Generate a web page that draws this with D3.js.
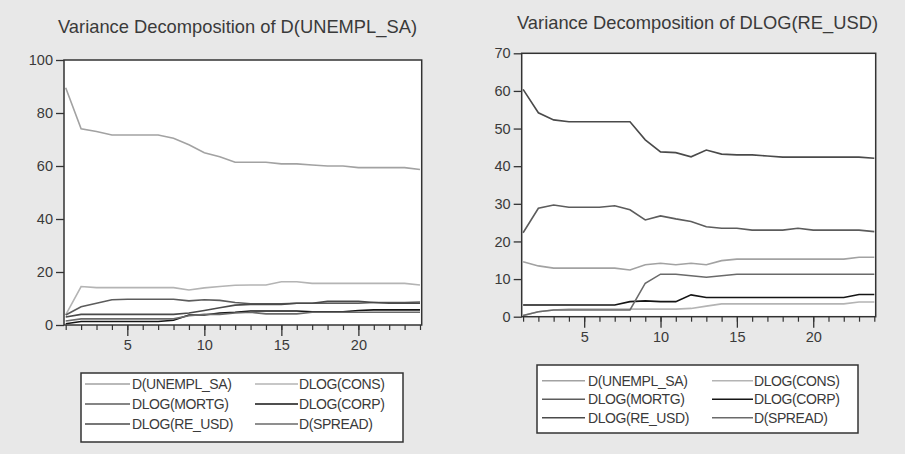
<!DOCTYPE html>
<html>
<head>
<meta charset="utf-8">
<script src="https://cdn.jsdelivr.net/npm/d3@7"></script>
<style>
  body { margin: 0; background: #e8e8e8; }
  svg { display: block; }
  text { font-family: "Liberation Sans", Arial, sans-serif; fill: #3a3a3a; }
</style>
</head>
<body>
<svg id="chart" width="905" height="454"></svg>
<script>
// Forecast horizons (periods)
const horizons = [1,2,3,4,5,6,7,8,9,10,11,12,13,14,15,16,17,18,19,20,21,22,23,24];
const xTickLabels = [5, 10, 15, 20];

// Shock variables, in legend order
const seriesNames = ["D(UNEMPL_SA)", "DLOG(CONS)", "DLOG(MORTG)", "DLOG(CORP)", "DLOG(RE_USD)", "D(SPREAD)"];
const seriesColors = ["#a2a2a2", "#b4b4b4", "#5c5c5c", "#151515", "#4a4a4a", "#6a6a6a"];

// Variance decomposition of D(UNEMPL_SA), percent due to each shock
const unemplTitle = "Variance Decomposition of D(UNEMPL_SA)";
const unemplYTicks = [0, 20, 40, 60, 80, 100];
const unemplDueUnempl = [89.5,74,73,71.7,71.7,71.7,71.7,70.5,68,65,63.5,61.4,61.4,61.4,60.8,60.8,60.4,60,60,59.4,59.4,59.4,59.4,58.7];
const unemplDueCons   = [3.8,14.5,14.1,14.1,14.1,14.1,14.1,14.1,13.2,14,14.5,15,15.1,15.1,16.3,16.3,15.7,15.7,15.7,15.7,15.7,15.7,15.7,15.1];
const unemplDueMortg  = [3.8,6.9,8.2,9.5,9.7,9.7,9.7,9.7,9.1,9.5,9.3,8.5,8,8,8,8.2,8.2,8.2,8.2,8.2,8.5,8.5,8.5,8.7];
const unemplDueCorp   = [0.5,1.3,1.3,1.3,1.3,1.3,1.3,1.8,3.8,3.8,4.5,4.8,5.3,5.3,5.3,5.3,5,5,5,5.5,5.7,5.7,5.7,5.7];
const unemplDueReUsd  = [3,4,4,4,4,4,4,4,4.5,5.5,6.5,7.5,7.8,7.8,7.8,8.2,8.2,8.9,8.9,8.9,8.5,8.2,8.2,8.2];
const unemplDueSpread = [1.5,2.3,2.3,2.3,2.3,2.3,2.3,2.3,3.5,4,4,4.5,4.8,4.2,4.2,4.2,4.8,4.8,4.8,4.8,4.8,4.8,4.8,4.8];

// Variance decomposition of DLOG(RE_USD), percent due to each shock
const reUsdTitle = "Variance Decomposition of DLOG(RE_USD)";
const reUsdYTicks = [0, 10, 20, 30, 40, 50, 60, 70];
const reUsdDueUnempl = [14.6,13.5,12.9,12.9,12.9,12.9,12.9,12.4,13.8,14.2,13.8,14.2,13.8,14.9,15.3,15.3,15.3,15.3,15.3,15.3,15.3,15.3,15.8,15.8];
const reUsdDueCons   = [0.3,1.3,1.8,2,2,2,2,2,2,2,2,2.2,2.8,3.4,3.4,3.4,3.4,3.4,3.4,3.4,3.4,3.4,3.9,3.9];
const reUsdDueMortg  = [22.3,28.8,29.7,29.1,29.1,29.1,29.5,28.4,25.7,26.8,26,25.3,23.9,23.5,23.5,23,23,23,23.5,23,23,23,23,22.6];
const reUsdDueCorp   = [3.1,3.1,3.1,3.1,3.1,3.1,3.1,4,4.2,4,4,5.8,5.1,5.1,5.1,5.1,5.1,5.1,5.1,5.1,5.1,5.1,5.9,5.9];
const reUsdDueReUsd  = [60.4,54.2,52.3,51.8,51.8,51.8,51.8,51.8,47,43.8,43.6,42.5,44.3,43.2,43,43,42.7,42.4,42.4,42.4,42.4,42.4,42.4,42.1];
const reUsdDueSpread = [0.3,1.3,1.8,1.8,1.8,1.8,1.8,1.8,8.9,11.3,11.3,10.9,10.5,10.9,11.3,11.3,11.3,11.3,11.3,11.3,11.3,11.3,11.3,11.3];

const panels = [
  {
    title: unemplTitle, yTicks: unemplYTicks,
    values: [unemplDueUnempl, unemplDueCons, unemplDueMortg, unemplDueCorp, unemplDueReUsd, unemplDueSpread],
    frame: { left: 64, right: 421.7, top: 60, bottom: 325 },
    xRange: [65.7, 420],
    titleBox: { x0: 58, x1: 417, baseline: 33.3 },
    legend: { x0: 81, x1: 403, y0: 373, y1: 442, rows: [384, 404, 424],
              cols: [{ l0: 85, l1: 130, tx: 132 }, { l0: 255, l1: 298, tx: 299 }] }
  },
  {
    title: reUsdTitle, yTicks: reUsdYTicks,
    values: [reUsdDueUnempl, reUsdDueCons, reUsdDueMortg, reUsdDueCorp, reUsdDueReUsd, reUsdDueSpread],
    frame: { left: 521.7, right: 875.7, top: 53.3, bottom: 316.7 },
    xRange: [523.1, 874.3],
    titleBox: { x0: 517, x1: 878, baseline: 29.3 },
    legend: { x0: 537, x1: 858, y0: 365, y1: 433, rows: [380.7, 399.2, 417.7],
              cols: [{ l0: 542, l1: 585, tx: 588 }, { l0: 712, l1: 753, tx: 754 }] }
  }
];

const svg = d3.select("#chart");

panels.forEach(p => {
  const g = svg.append("g");
  const f = p.frame;

  const x = d3.scaleLinear().domain([1, 24]).range(p.xRange);
  const y = d3.scaleLinear().domain([0, d3.max(p.yTicks)]).range([f.bottom, f.top]);

  // title
  g.append("text")
    .attr("x", p.titleBox.x0)
    .attr("y", p.titleBox.baseline)
    .attr("font-size", 19)
    .attr("textLength", p.titleBox.x1 - p.titleBox.x0)
    .attr("lengthAdjust", "spacingAndGlyphs")
    .text(p.title);

  // plot area
  g.append("rect")
    .attr("x", f.left).attr("y", f.top)
    .attr("width", f.right - f.left).attr("height", f.bottom - f.top)
    .attr("fill", "#ffffff");

  // series lines
  const line = d3.line()
    .x((d, i) => x(horizons[i]))
    .y(d => y(d));
  p.values.forEach((vals, k) => {
    g.append("path")
      .datum(vals)
      .attr("d", line)
      .attr("fill", "none")
      .attr("stroke", seriesColors[k])
      .attr("stroke-width", 1.6);
  });

  // frame
  g.append("rect")
    .attr("x", f.left).attr("y", f.top)
    .attr("width", f.right - f.left).attr("height", f.bottom - f.top)
    .attr("fill", "none")
    .attr("stroke", "#333")
    .attr("stroke-width", 1.5);

  // y axis
  const yAxis = d3.axisLeft(y)
    .tickValues(p.yTicks)
    .tickSize(8)
    .tickPadding(3)
    .tickFormat(d3.format("d"));
  const ya = g.append("g").attr("transform", `translate(${f.left},0)`).call(yAxis);
  ya.select(".domain").remove();
  ya.selectAll(".tick line").attr("stroke", "#333").attr("stroke-width", 1.3);
  ya.selectAll(".tick text").attr("font-size", 14.5).attr("fill", "#3a3a3a")
    .attr("font-family", "Liberation Sans, Arial, sans-serif");

  // x axis: minor ticks each period, longer ticks with labels every five
  const xMinor = d3.axisBottom(x).tickValues(horizons).tickSize(5).tickFormat("");
  const xm = g.append("g").attr("transform", `translate(0,${f.bottom})`).call(xMinor);
  xm.select(".domain").remove();
  xm.selectAll(".tick line").attr("stroke", "#333").attr("stroke-width", 1.2);

  const xMajor = d3.axisBottom(x).tickValues(xTickLabels).tickSize(11).tickPadding(4)
    .tickFormat(d3.format("d"));
  const xM = g.append("g").attr("transform", `translate(0,${f.bottom})`).call(xMajor);
  xM.select(".domain").remove();
  xM.selectAll(".tick line").attr("stroke", "#333").attr("stroke-width", 1.3);
  xM.selectAll(".tick text").attr("font-size", 14.5).attr("fill", "#3a3a3a")
    .attr("font-family", "Liberation Sans, Arial, sans-serif");

  // legend
  const L = p.legend;
  const lg = g.append("g");
  lg.append("rect")
    .attr("x", L.x0).attr("y", L.y0)
    .attr("width", L.x1 - L.x0).attr("height", L.y1 - L.y0)
    .attr("fill", "#ffffff").attr("stroke", "#333").attr("stroke-width", 1.5);
  seriesNames.forEach((name, k) => {
    const row = Math.floor(k / 2), col = k % 2;
    const c = L.cols[col], ry = L.rows[row];
    lg.append("line")
      .attr("x1", c.l0).attr("x2", c.l1).attr("y1", ry).attr("y2", ry)
      .attr("stroke", seriesColors[k]).attr("stroke-width", 1.6);
    lg.append("text")
      .attr("x", c.tx).attr("y", ry).attr("dy", "0.36em")
      .attr("font-size", 14)
      .attr("letter-spacing", -0.4)
      .text(name);
  });
});
</script>
</body>
</html>
